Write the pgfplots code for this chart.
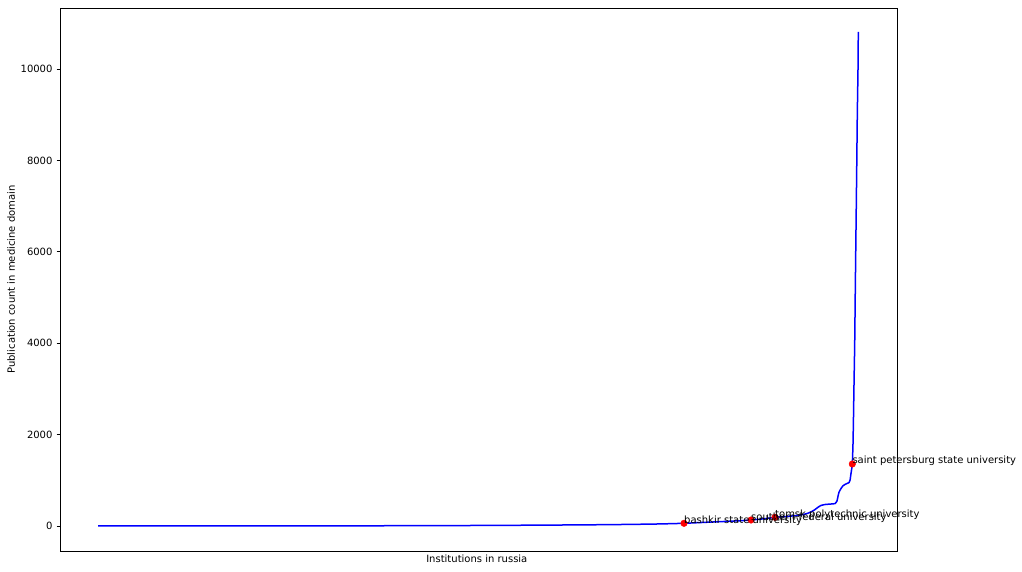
\documentclass[border=0pt]{standalone}
\usepackage{fontspec}
\setmainfont{DejaVu Sans}
\usepackage{pgfplots}
\pgfplotsset{compat=1.18}
\begin{document}
\begin{tikzpicture}[x=1pt,y=1pt]
\path[use as bounding box] (0,0) rectangle (1022,572);
\begin{axis}[
  at={(60pt,21pt)}, anchor=south west,
  scale only axis, width=837pt, height=543pt,
  xmin=60, xmax=897, ymin=-547, ymax=11335,
  xtick=\empty, ytick={0,2000,4000,6000,8000,10000},
  scaled y ticks=false, ytick pos=left,
  clip mode=individual,
  tick align=outside, major tick length=3.5pt,
  every tick/.style={black, line width=0.8pt},
  axis line style={black, line width=0.8pt},
  /pgf/number format/assume math mode=true,
  /pgf/number format/1000 sep={},
  yticklabel style={font=\fontsize{10}{12}\selectfont, xshift=-0.5pt},
  tick label style={font=\fontsize{10}{12}\selectfont},
  every axis y label/.style={at={(axis description cs:-0.0585,0.5)}, rotate=90, anchor=center, font=\fontsize{10}{12}\selectfont},
  every axis x label/.style={at={(axis description cs:0.498,-0.0147)}, anchor=center, font=\fontsize{10}{12}\selectfont},
  ylabel={Publication count in medicine domain},
  xlabel={Institutions in russia},
]
\addplot[blue, line width=1.5pt, smooth, tension=0.3, mark=none] coordinates {
(98,0) (200,1) (300,3) (400,6) (450,9) (500,14) (550,20) (600,28) (630,35) (660,45)
(684,59) (700,75) (720,95) (740,115) (751,131) (765,160) (775,190) (785,205) (795,225)
(803,250) (808,280) (812,320) (815,360) (818,410) (821,450) (825,470) (830,480) (835,490)
(837,550) (838,650) (839,740) (841,820) (843,880) (845,910) (847,930) (849,950) (850,1000)
(851,1150) (852.3,1357) (853,1800) (853.5,2400) (854,3100) (854.7,4000) (855.3,5200)
(856,6500) (856.7,7800) (857.3,9000) (858,10000) (858.3,10810)
};
\addplot[only marks, mark=*, mark size=3.3pt, red, mark options={fill=red, draw=red}] coordinates {
(684,59) (751,131) (775,190) (852.3,1357)
};
\node[anchor=base west, inner sep=0pt, font=\fontsize{10}{12}\selectfont] at (axis cs:684,59) {bashkir state university};
\node[anchor=base west, inner sep=0pt, font=\fontsize{10}{12}\selectfont] at (axis cs:751,131) {southern federal university};
\node[anchor=base west, inner sep=0pt, font=\fontsize{10}{12}\selectfont] at (axis cs:775,190) {tomsk polytechnic university};
\node[anchor=base west, inner sep=0pt, font=\fontsize{10}{12}\selectfont] at (axis cs:852.3,1357) {saint petersburg state university};
\end{axis}
\end{tikzpicture}
\end{document}
